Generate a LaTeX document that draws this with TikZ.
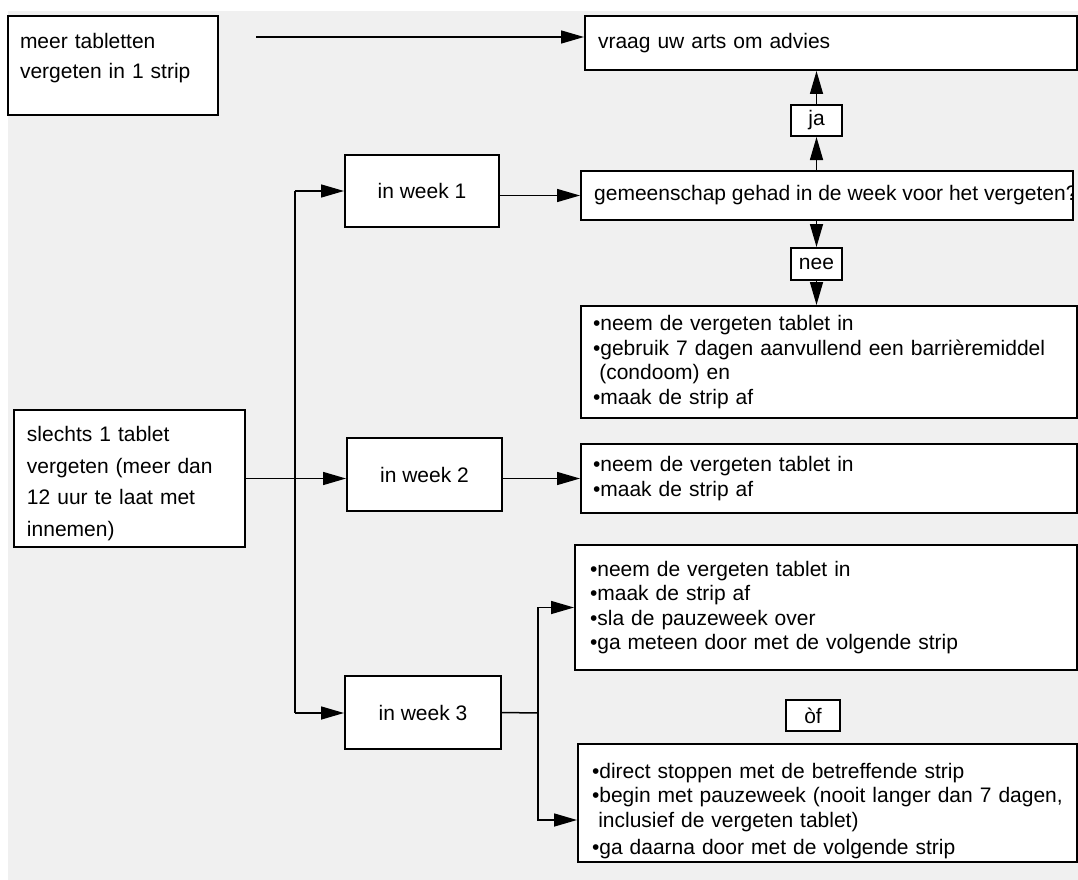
\documentclass[tikz,border=0pt]{standalone}
\usepackage{fontspec}
\setmainfont{Liberation Sans}
\usetikzlibrary{arrows.meta}
\definecolor{bggray}{HTML}{F0F0F0}
\tikzset{
  box/.style={draw, line width=2pt, fill=white, rectangle, inner sep=0pt,
    align=left, font=\fontsize{21}{24.5}\selectfont},
  tag/.style={draw, line width=2pt, fill=white, rectangle, inner sep=0pt,
    align=center, font=\fontsize{21}{24.5}\selectfont},
  conn/.style={line width=1.5pt, black},
  arr/.style={conn, -{Triangle[length=23pt,width=13pt]}},
}
\begin{document}
\begin{tikzpicture}[x=1pt,y=-1pt]
\useasboundingbox (0,0) rectangle (1078,880);
\fill[white] (0,0) rectangle (1078,880);
\fill[bggray] (8,11) rectangle (1078,880);

% left boxes
\node[box, minimum width=210pt, minimum height=99pt, text width=186pt,
  font=\fontsize{21}{30}\selectfont] (A) at (113,65.5)
  {meer tabletten\\vergeten in 1 strip\\[-11pt]\mbox{}};
\node[box, minimum width=231pt, minimum height=137pt, text width=205pt,
  font=\fontsize{21}{31.5}\selectfont] (S) at (129.5,478.5)
  {\rule{0pt}{25pt}slechts 1 tablet\\vergeten (meer dan\\12 uur te laat met\\innemen)};

% week boxes
\node[tag, minimum width=154pt, minimum height=72pt] (W1) at (422,191) {in week 1};
\node[tag, minimum width=155pt, minimum height=73pt] (W2) at (424.5,474.5) {in week 2};
\node[tag, minimum width=156pt, minimum height=73pt] (W3) at (423,712.5) {in week 3};

% right boxes
\node[box, minimum width=492pt, minimum height=54pt, text width=466pt] (V) at (831,43)
  {vraag uw arts om advies};
\node[tag, minimum width=51pt, minimum height=31pt] (ja) at (816.5,120.5) {ja};
\node[box, minimum width=492pt, minimum height=49pt] (G) at (827,195.5) {};
\begin{scope}
  \clip ([shift={(1pt,1pt)}]G.south west) rectangle ([shift={(-1pt,-1pt)}]G.north east);
  \node[anchor=west, inner sep=0pt, font=\fontsize{21}{24.5}\selectfont] (Gt)
    at ([xshift=14pt]G.west) {gemeenschap gehad in de week voor het vergeten?};
\end{scope}
\node[tag, minimum width=51pt, minimum height=32pt] (nee) at (816.5,264) {nee};
\node[box, minimum width=496pt, minimum height=112pt, text width=472pt] (R1) at (829,362)
  {•neem de vergeten tablet in\\\mbox{•gebruik 7 dagen aanvullend een barrièremiddel}\\\hspace*{0.3em}(condoom) en\\•maak de strip af};
\node[box, minimum width=496pt, minimum height=69pt, text width=472pt] (R2) at (829,478.5)
  {•neem de vergeten tablet in\\•maak de strip af};
\node[box, minimum width=502pt, minimum height=125pt, text width=472pt] (R3a) at (826,607.5)
  {•neem de vergeten tablet in\\•maak de strip af\\•sla de pauzeweek over\\•ga meteen door met de volgende strip};
\node[tag, minimum width=54pt, minimum height=31pt] (of) at (813,715.5) {òf};
\node[box, minimum width=499pt, minimum height=118pt, text width=471pt] (R3b) at (827.5,803)
  {\rule{0pt}{31pt}•direct stoppen met de betreffende strip\\\mbox{•begin met pauzeweek (nooit langer dan 7 dagen,}\\\hspace*{0.3em}inclusief de vergeten tablet)\\[3pt]•ga daarna door met de volgende strip};

% connectors
\draw[arr] ([xshift=37pt,yshift=28.5pt]A.east) -- ([yshift=28.5pt]A.east -| V.west);
\coordinate (t1) at (295,191);
\coordinate (t3) at (295,713);
\draw[conn] (t1) -- (t3);
\draw[arr] (t1) -- (W1.west);
\draw[arr] (S.east) -- (S.east -| W2.west);
\draw[arr] (t3) -- (t3 -| W3.west);
\draw[arr] (W1.east |- G.west) -- (G.west);
\draw[arr] (W2.east |- R2.west) -- (R2.west);
\coordinate (j3) at (538,713);
\draw[conn] (W3.east) -- (j3);
\draw[arr] (j3) |- (R3a.west);
\draw[arr] (j3) |- ([yshift=-17pt]R3b.west);
\draw[arr] (G.north -| ja.south) -- (ja.south);
\draw[arr] (ja.north) -- (ja.north |- V.south);
\draw[arr] (G.south -| nee.north) -- (nee.north);
\draw[arr] (nee.south) -- (nee.south |- R1.north);
\end{tikzpicture}
\end{document}
